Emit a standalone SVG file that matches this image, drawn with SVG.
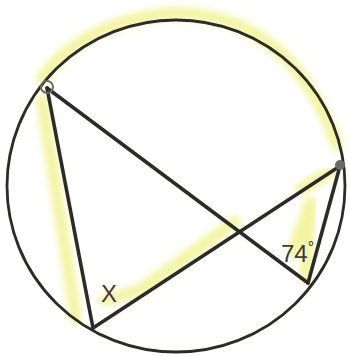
<svg xmlns="http://www.w3.org/2000/svg" width="350" height="356" viewBox="0 0 350 356">
<defs>
<filter id="blur" x="-20%" y="-20%" width="140%" height="140%"><feGaussianBlur stdDeviation="3.5"/></filter>
<style>
.hl{fill:none;stroke:#f0f28a;stroke-width:12;stroke-linecap:round;opacity:0.8;filter:url(#blur)}
.ln{stroke:#2b2b28;stroke-width:3.6;stroke-linecap:round;fill:none}
.circ{stroke:#2b2b28;stroke-width:2.8;fill:none}
.lbl{font-family:"Liberation Sans",Arial,sans-serif;font-size:24px;fill:#3a3a3a}
</style>
</defs>
<rect width="350" height="356" fill="#ffffff"/>
<g id="highlight">
<path class="hl" d="M42 78 Q 85 20 175 13 Q 290 14 337 145"/>
<path class="hl" d="M42 100 L 76 318"/>
<path class="hl" d="M105 300 L 140 290 L 235 222"/>
<path class="hl" d="M300 190 L 330 172"/>
<path class="hl" d="M292 252 L 312 198 L 305 275"/>
</g>
<g id="circle"><ellipse class="circ" cx="176" cy="186" rx="169" ry="166"/></g>
<g id="connectors">
<line class="ln" x1="47" y1="88" x2="93" y2="328"/>
<line class="ln" x1="47" y1="88" x2="308" y2="283"/>
<line class="ln" x1="93" y1="328" x2="340" y2="166"/>
<line class="ln" x1="340" y1="166" x2="308" y2="283"/>
</g>
<g id="pointA"><circle cx="47" cy="87" r="6" fill="none" stroke="#6a6a60" stroke-width="2"/></g>
<g id="pointB"><circle cx="340" cy="165" r="5" fill="#6a6a66"/></g>
<g id="labelX"><text class="lbl" x="101" y="302">X</text></g>
<g id="label74"><text class="lbl" x="281" y="262">74<tspan font-size="16" dy="-9">°</tspan></text></g>
</svg>
